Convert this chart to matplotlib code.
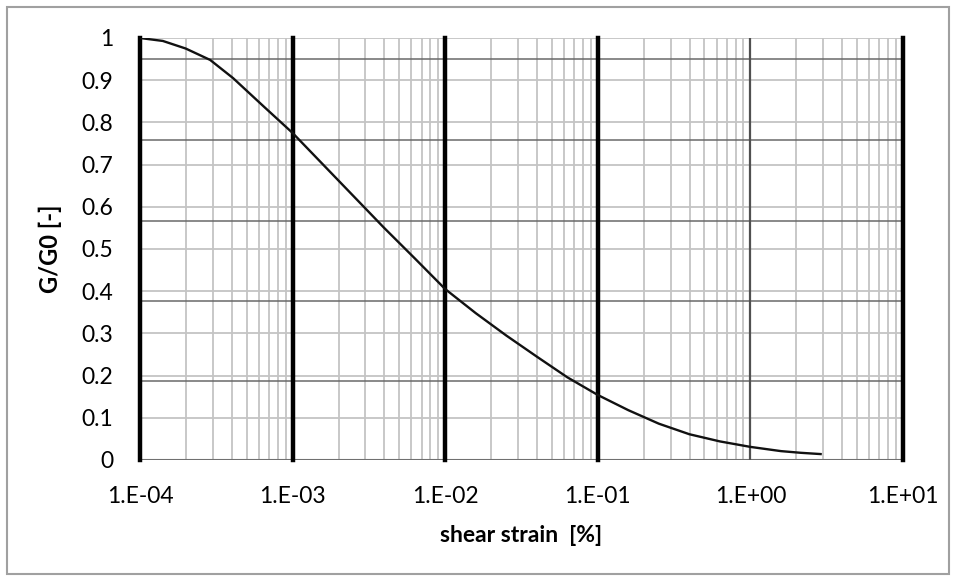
import matplotlib
matplotlib.use("Agg")
import matplotlib.pyplot as plt
from matplotlib.patches import Rectangle
import numpy as np

# shear strain (log10 of %) vs G/G0
log_strain = [-4.0, -3.85, -3.7, -3.54, -3.39, -3.19, -3.0, -2.8, -2.6, -2.4,
              -2.2, -2.0, -1.8, -1.6, -1.4, -1.2, -1.0, -0.8, -0.6, -0.4,
              -0.2, 0.0, 0.2, 0.33, 0.46]
g_ratio = [1.0, 0.993, 0.975, 0.948, 0.905, 0.838, 0.775, 0.700, 0.625, 0.550,
           0.478, 0.405, 0.348, 0.295, 0.245, 0.196, 0.154, 0.118, 0.086, 0.061,
           0.044, 0.031, 0.021, 0.017, 0.014]

x_ticks = [1e-4, 1e-3, 1e-2, 1e-1, 1e0, 1e1]
x_ticklabels = ["1.E-04", "1.E-03", "1.E-02", "1.E-01", "1.E+00", "1.E+01"]
y_ticks = [0, 0.1, 0.2, 0.3, 0.4, 0.5, 0.6, 0.7, 0.8, 0.9, 1]
y_ticklabels = ["0", "0.1", "0.2", "0.3", "0.4", "0.5", "0.6", "0.7", "0.8", "0.9", "1"]
thick_decades = [1e-4, 1e-3, 1e-2, 1e-1, 1e1]
thin_decades = [1e0]
# darker scanned lines across the sheet
scan_levels = [0.95, 0.758, 0.566, 0.377, 0.188]

plt.rcParams['font.family'] = ['Lato', 'DejaVu Sans']

fig = plt.figure(figsize=(9.56, 5.81), dpi=100)
fig.patches.append(Rectangle((0.007, 0.012), 0.986, 0.976, transform=fig.transFigure,
                             fill=False, edgecolor="#a0a0a0", linewidth=1.5))
ax = fig.add_axes([0.1464, 0.2083, 0.7982, 0.7263])

ax.set_xscale("log")
ax.set_xlim(1e-4, 1e1)
ax.set_ylim(0, 1)

# light grid
minor = [m * 10.0 ** e for e in range(-4, 1) for m in range(2, 10)]
for xv in minor:
    ax.axvline(xv, color="#c4c4c4", lw=1.3, zorder=1)
for yv in y_ticks[1:]:
    ax.axhline(yv, color="#c4c4c4", lw=1.3, zorder=1)
for yv in scan_levels:
    ax.axhline(yv, color="#6a6a6a", lw=1.3, zorder=2, alpha=0.85)
ax.axhline(0, color="#707070", lw=1.5, zorder=2)

for xv in thin_decades:
    ax.axvline(xv, color="#505050", lw=1.6, zorder=3)
for xv in thick_decades:
    ax.axvline(xv, color="black", lw=3.2, zorder=3, clip_on=False)

ax.plot(10.0 ** np.array(log_strain), g_ratio, color="#111111", lw=1.7, zorder=4)

for s in ax.spines.values():
    s.set_visible(False)

ax.set_xticks(x_ticks)
ax.set_xticklabels(x_ticklabels)
ax.set_xticks([], minor=True)
ax.set_yticks(y_ticks)
ax.set_yticklabels(y_ticklabels)
ax.tick_params(axis="both", length=0, labelsize=16.5, colors="black")
ax.tick_params(axis="x", pad=19)
ax.tick_params(axis="y", pad=19)

ax.set_xlabel("shear strain  [%]", fontsize=16.5, fontweight="bold", labelpad=13)
ax.set_ylabel("G/G0 [-]", fontsize=17, fontweight="bold", labelpad=14)

fig.savefig("out.png", dpi=100, facecolor="white")
